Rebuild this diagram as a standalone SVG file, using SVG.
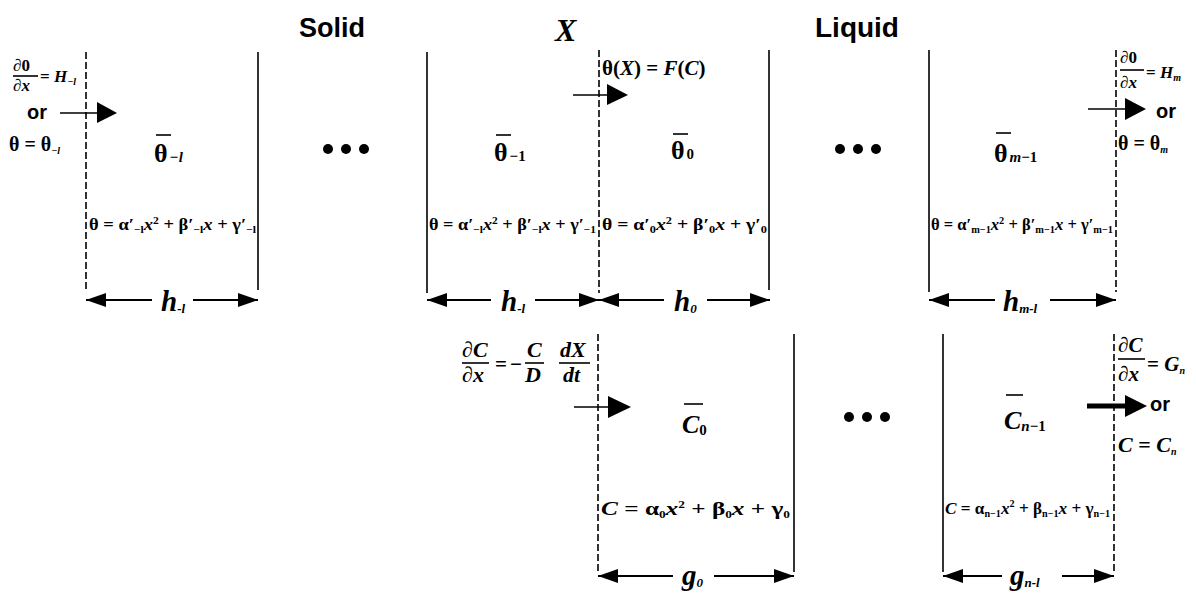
<svg xmlns="http://www.w3.org/2000/svg" width="1196" height="595" viewBox="0 0 1196 595">
<style>
.bg{fill:#fff}
.s{font-family:"Liberation Sans",Arial,sans-serif;font-weight:bold;fill:#000}
.m{font-family:"Liberation Serif","Times New Roman",serif;font-weight:bold;fill:#000}
.i{font-style:italic}
.sub{font-size:10px}
.wall{stroke:#000;stroke-width:1.6;fill:none}
.dash{stroke:#000;stroke-width:1.6;fill:none;stroke-dasharray:7 3}
.dim{stroke:#000;stroke-width:2;fill:none}
.ptr{stroke:#000;stroke-width:1.6;fill:none}
.thick{stroke:#000;stroke-width:5;fill:none}
.bar{stroke:#000;stroke-width:1.6}
.head{fill:#000}
</style>
<defs>
<marker id="ah" markerUnits="userSpaceOnUse" markerWidth="20" markerHeight="14" refX="20" refY="7" orient="auto-start-reverse" viewBox="0 0 20 14">
<path d="M0,0 L20,7 L0,14 z" fill="#000"/>
</marker>
</defs>
<rect class="bg" x="0" y="0" width="1196" height="595"/>

<!-- headings -->
<g id="headings">
<text class="s" x="299" y="37" font-size="27">Solid</text>
<text class="m i" x="555" y="41" font-size="32">X</text>
<text class="s" x="815" y="37" font-size="28">Liquid</text>
</g>

<!-- solid cell -l (left) -->
<g id="cell-solid-left">
<line class="dash" x1="86" y1="52" x2="86" y2="290"/>
<line class="wall" x1="258" y1="52" x2="258" y2="290"/>
<text class="m" x="154" y="162" font-size="26">θ<tspan class="i" font-size="15" dx="2">−l</tspan></text>
<line class="bar" x1="156" y1="135" x2="171" y2="135"/>
<text class="m" x="89" y="230" font-size="16" textLength="167" lengthAdjust="spacingAndGlyphs">θ = α′<tspan class="sub" dy="3">−l</tspan><tspan class="i" dy="-3">x</tspan><tspan class="sub" dy="-6">2</tspan><tspan dy="6"> + β′</tspan><tspan class="sub" dy="3">−l</tspan><tspan class="i" dy="-3">x</tspan><tspan> + γ′</tspan><tspan class="sub" dy="3">−l</tspan></text>
</g>

<!-- left boundary condition -->
<g id="bc-left">
<text class="m" x="13" y="71" font-size="17">∂0</text>
<line class="bar" x1="13" y1="76" x2="38" y2="76"/>
<text class="m" x="13" y="91" font-size="17">∂<tspan class="i">x</tspan></text>
<text class="m" x="40" y="82" font-size="17">= <tspan class="i">H</tspan><tspan class="sub i" dy="3">−l</tspan></text>
<text class="s" x="27" y="119" font-size="20">or</text>
<text class="m" x="9" y="151" font-size="20">θ = θ<tspan class="sub i" font-size="12" dy="3">−l</tspan></text>
</g>

<g id="ellipsis-top-1">
<circle cx="328" cy="149" r="5"/>
<circle cx="346" cy="149" r="5"/>
<circle cx="364" cy="149" r="5"/>
</g>

<!-- solid cell -1 -->
<g id="cell-solid-last">
<line class="wall" x1="427" y1="52" x2="427" y2="293"/>
<text class="m" x="494" y="161" font-size="26">θ<tspan font-size="15" dx="2">−1</tspan></text>
<line class="bar" x1="496" y1="135" x2="511" y2="135"/>
<text class="m" x="429" y="230" font-size="16" textLength="167" lengthAdjust="spacingAndGlyphs">θ = α′<tspan class="sub" dy="3">−l</tspan><tspan class="i" dy="-3">x</tspan><tspan class="sub" dy="-6">2</tspan><tspan dy="6"> + β′</tspan><tspan class="sub" dy="3">−l</tspan><tspan class="i" dy="-3">x</tspan><tspan> + γ′</tspan><tspan class="sub" dy="3">−1</tspan></text>
</g>

<!-- interface -->
<g id="interface">
<line class="dash" x1="599" y1="50" x2="599" y2="293"/>
<text class="m" x="602" y="75" font-size="21">θ(<tspan class="i">X</tspan>) = <tspan class="i">F</tspan>(<tspan class="i">C</tspan>)</text>
</g>

<!-- liquid cell 0 -->
<g id="cell-liquid-0">
<line class="wall" x1="769" y1="50" x2="769" y2="290"/>
<text class="m" x="671" y="159" font-size="26">θ<tspan font-size="15" dx="2">0</tspan></text>
<line class="bar" x1="673" y1="134" x2="688" y2="134"/>
<text class="m" x="602" y="230" font-size="16" textLength="165" lengthAdjust="spacingAndGlyphs">θ = α′<tspan class="sub" dy="3">0</tspan><tspan class="i" dy="-3">x</tspan><tspan class="sub" dy="-6">2</tspan><tspan dy="6"> + β′</tspan><tspan class="sub" dy="3">0</tspan><tspan class="i" dy="-3">x</tspan><tspan> + γ′</tspan><tspan class="sub" dy="3">0</tspan></text>
</g>

<g id="ellipsis-top-2">
<circle cx="840" cy="149" r="5"/>
<circle cx="858" cy="149" r="5"/>
<circle cx="876" cy="149" r="5"/>
</g>

<!-- liquid cell m-1 -->
<g id="cell-liquid-last">
<line class="wall" x1="929" y1="50" x2="929" y2="292"/>
<line class="dash" x1="1116" y1="50" x2="1116" y2="292"/>
<text class="m" x="994" y="162" font-size="26">θ<tspan font-size="15" dx="2"><tspan class="i">m</tspan>−1</tspan></text>
<line class="bar" x1="996" y1="133" x2="1011" y2="133"/>
<text class="m" x="931" y="230" font-size="16" textLength="182" lengthAdjust="spacingAndGlyphs">θ = α′<tspan class="sub" dy="3">m−1</tspan><tspan class="i" dy="-3">x</tspan><tspan class="sub" dy="-6">2</tspan><tspan dy="6"> + β′</tspan><tspan class="sub" dy="3">m−1</tspan><tspan class="i" dy="-3">x</tspan><tspan> + γ′</tspan><tspan class="sub" dy="3">m−1</tspan></text>
</g>

<!-- right boundary condition (temperature) -->
<g id="bc-right-theta">
<text class="m" x="1120" y="63" font-size="17">∂0</text>
<line class="bar" x1="1120" y1="70" x2="1144" y2="70"/>
<text class="m" x="1120" y="88" font-size="17">∂<tspan class="i">x</tspan></text>
<text class="m" x="1146" y="78" font-size="17">= <tspan class="i">H</tspan><tspan class="sub i" dy="3">m</tspan></text>
<text class="s" x="1156" y="118" font-size="20">or</text>
<text class="m" x="1118" y="150" font-size="20">θ = θ<tspan class="sub i" font-size="12" dy="3">m</tspan></text>
</g>

<!-- bottom row: concentration -->
<g id="bc-interface-C">
<line class="dash" x1="598" y1="334" x2="598" y2="572"/>
<text class="m" x="462" y="357" font-size="22">∂<tspan class="i">C</tspan></text>
<line class="bar" x1="462" y1="363" x2="489" y2="363"/>
<text class="m" x="462" y="382" font-size="22">∂<tspan class="i">x</tspan></text>
<text class="m" x="495" y="371" font-size="21">=</text>
<text class="m" x="510" y="371" font-size="21">−</text>
<text class="m i" x="527" y="357" font-size="22">C</text>
<line class="bar" x1="525" y1="363" x2="544" y2="363"/>
<text class="m i" x="525" y="382" font-size="22">D</text>
<text class="m i" x="560" y="357" font-size="22">dX</text>
<line class="bar" x1="559" y1="363" x2="590" y2="363"/>
<text class="m i" x="563" y="382" font-size="22">dt</text>
</g>

<g id="cell-C-0">
<line class="wall" x1="794" y1="334" x2="794" y2="572"/>
<text class="m i" x="682" y="433" font-size="26">C<tspan font-size="15" font-style="normal" dy="2">0</tspan></text>
<line class="bar" x1="684" y1="404" x2="703" y2="404"/>
<text class="m" x="601" y="515" font-size="19" textLength="189" lengthAdjust="spacingAndGlyphs"><tspan class="i">C</tspan> = α<tspan class="sub" dy="3">0</tspan><tspan class="i" dy="-3">x</tspan><tspan class="sub" dy="-7">2</tspan><tspan dy="7"> + β</tspan><tspan class="sub" dy="3">0</tspan><tspan class="i" dy="-3">x</tspan><tspan> + γ</tspan><tspan class="sub" dy="3">0</tspan></text>
</g>

<g id="ellipsis-bottom">
<circle cx="849" cy="417" r="5"/>
<circle cx="867" cy="417" r="5"/>
<circle cx="885" cy="417" r="5"/>
</g>

<g id="cell-C-last">
<line class="wall" x1="943" y1="334" x2="943" y2="572"/>
<line class="dash" x1="1114" y1="334" x2="1114" y2="572"/>
<text class="m i" x="1004" y="429" font-size="26">C<tspan font-size="15" dy="2"><tspan>n</tspan><tspan font-style="normal">−1</tspan></tspan></text>
<line class="bar" x1="1006" y1="395" x2="1023" y2="395"/>
<text class="m" x="945" y="514" font-size="17" textLength="165" lengthAdjust="spacingAndGlyphs"><tspan class="i">C</tspan> = α<tspan class="sub" dy="3">n−1</tspan><tspan class="i" dy="-3">x</tspan><tspan class="sub" dy="-7">2</tspan><tspan dy="7"> + β</tspan><tspan class="sub" dy="3">n−1</tspan><tspan class="i" dy="-3">x</tspan><tspan> + γ</tspan><tspan class="sub" dy="3">n−1</tspan></text>
</g>

<g id="bc-right-C">
<text class="m" x="1118" y="352" font-size="21">∂<tspan class="i">C</tspan></text>
<line class="bar" x1="1118" y1="359" x2="1145" y2="359"/>
<text class="m" x="1118" y="381" font-size="21">∂<tspan class="i">x</tspan></text>
<text class="m" x="1147" y="371" font-size="21">= <tspan class="i">G</tspan><tspan class="sub i" dy="3">n</tspan></text>
<text class="s" x="1150" y="411" font-size="20">or</text>
<text class="m i" x="1118" y="452" font-size="22">C <tspan font-style="normal">=</tspan> C<tspan class="sub" dy="3">n</tspan></text>
</g>

<!-- connectors -->
<g id="connectors">
<line class="ptr" x1="60" y1="113" x2="98" y2="113"/>
<path class="head" d="M97,102 L117,113 L97,123 z"/>
<line class="ptr" x1="573" y1="95" x2="608" y2="95"/>
<path class="head" d="M607,84 L628,95 L607,105 z"/>
<line class="ptr" x1="1088" y1="109" x2="1126" y2="109"/>
<path class="head" d="M1125,98 L1146,109 L1125,120 z"/>
<line class="ptr" x1="574" y1="407" x2="609" y2="407"/>
<path class="head" d="M608,396 L631,407 L608,418 z"/>
<line class="thick" x1="1087" y1="406" x2="1126" y2="406"/>
<path class="head" d="M1125,395 L1147,406 L1125,417 z"/>

<!-- dimension arrows -->
<line class="dim" x1="152" y1="300" x2="86" y2="300" marker-end="url(#ah)"/>
<line class="dim" x1="193" y1="300" x2="258" y2="300" marker-end="url(#ah)"/>
<line class="dim" x1="491" y1="300" x2="427" y2="300" marker-end="url(#ah)"/>
<line class="dim" x1="535" y1="300" x2="599" y2="300" marker-end="url(#ah)"/>
<line class="dim" x1="664" y1="300" x2="599" y2="300" marker-end="url(#ah)"/>
<line class="dim" x1="707" y1="300" x2="770" y2="300" marker-end="url(#ah)"/>
<line class="dim" x1="995" y1="300" x2="929" y2="300" marker-end="url(#ah)"/>
<line class="dim" x1="1050" y1="300" x2="1116" y2="300" marker-end="url(#ah)"/>
<line class="dim" x1="673" y1="576" x2="598" y2="576" marker-end="url(#ah)"/>
<line class="dim" x1="714" y1="576" x2="794" y2="576" marker-end="url(#ah)"/>
<line class="dim" x1="1002" y1="576" x2="943" y2="576" marker-end="url(#ah)"/>
<line class="dim" x1="1062" y1="576" x2="1114" y2="576" marker-end="url(#ah)"/>
</g>

<g id="dimension-labels">
<text class="m i" x="161" y="311" font-size="29">h<tspan font-size="13" dy="2">-l</tspan></text>
<text class="m i" x="501" y="311" font-size="29">h<tspan font-size="13" dy="2">-l</tspan></text>
<text class="m i" x="674" y="311" font-size="29">h<tspan font-size="13" dy="2">0</tspan></text>
<text class="m i" x="1003" y="311" font-size="29">h<tspan font-size="13" dy="2">m-l</tspan></text>
<text class="m i" x="682" y="585" font-size="29">g<tspan font-size="13" dy="2">0</tspan></text>
<text class="m i" x="1010" y="585" font-size="29">g<tspan font-size="13" dy="2">n-l</tspan></text>
</g>
</svg>
